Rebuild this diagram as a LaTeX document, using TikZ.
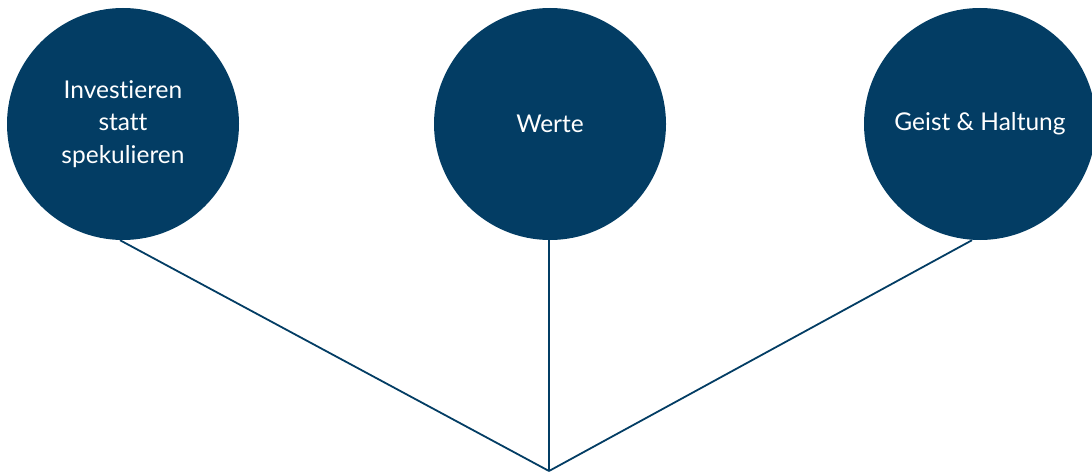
\documentclass[tikz,border=0pt]{standalone}
\usepackage{fontspec}
\setmainfont[Ligatures={NoCommon,NoDiscretionary,NoRare}]{Lato}
\definecolor{navy}{HTML}{033D64}
\begin{document}
\begin{tikzpicture}[x=1pt,y=-1pt,
  topic/.style={circle, fill=navy, minimum size=232pt, inner sep=0pt,
    text=white, align=center, font=\fontsize{24.5}{32.5}\selectfont},
  link/.style={draw=navy, line width=1.8pt}]
  \useasboundingbox (0,0) rectangle (1092,473);
  \clip (0,0) rectangle (1092,473);
  \node[topic] (inv) at (123,124) {Investieren\\statt\\spekulieren};
  \node[topic] (wer) at (550,124) {Werte};
  \node[topic] (gei) at (980,124) {Geist \& Haltung};
  \coordinate (root) at (549,471);
  \draw[link] ([xshift=-3pt]inv.south) -- (root);
  \draw[link] (wer.south -| root) -- (root);
  \draw[link] ([xshift=-8pt]gei.south) -- (root);
\end{tikzpicture}
\end{document}
